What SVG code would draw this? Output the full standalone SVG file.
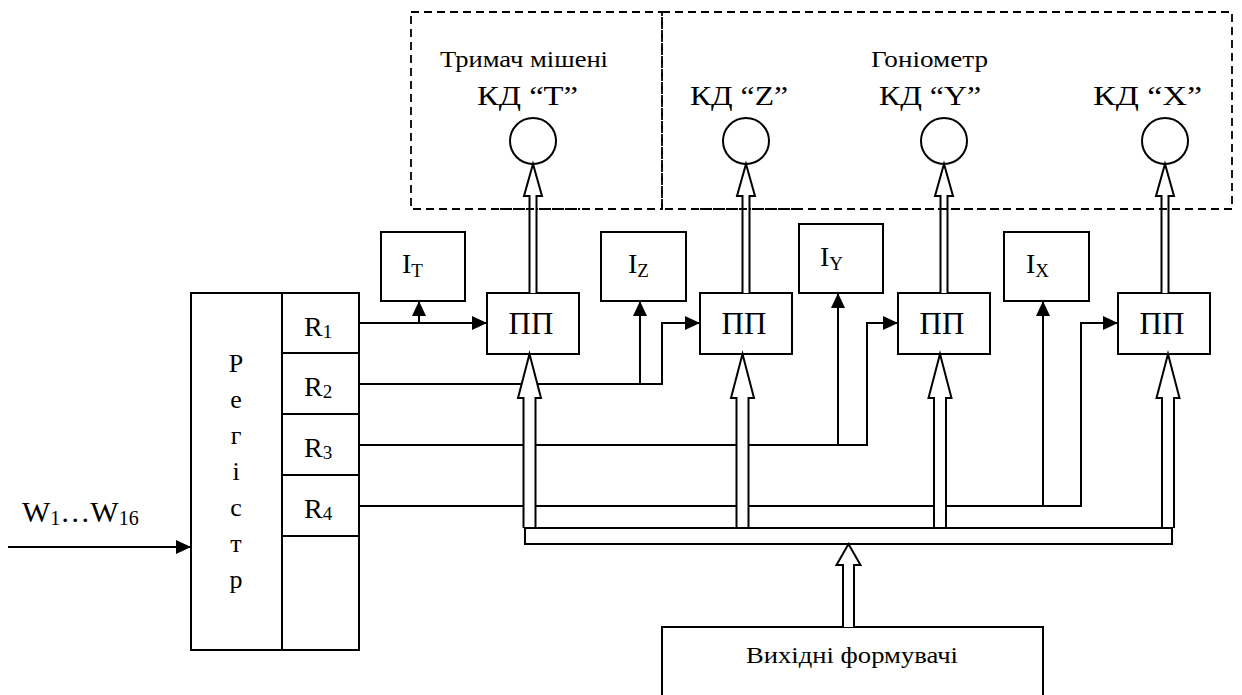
<svg xmlns="http://www.w3.org/2000/svg" width="1242" height="695" viewBox="0 0 1242 695" font-family="'Liberation Serif', 'Times New Roman', 'DejaVu Serif', serif">
<style>
text{font-family:'Liberation Serif','Times New Roman','DejaVu Serif',serif;fill:#000}
.box{fill:#fff;stroke:#000;stroke-width:2}
.ln{fill:none;stroke:#000;stroke-width:2}
.dash{fill:none;stroke:#000;stroke-width:1.8;stroke-dasharray:8 5}
.dbl{fill:#fff;stroke:#000;stroke-width:2;stroke-linejoin:miter}
.kd{font-size:28px}
.grp{font-size:24px}
.pp{font-size:31px;text-anchor:middle}
.big{font-size:28px}
.sub{font-size:19px}
.reg{font-size:26px;text-anchor:middle}
</style>
<defs>
<marker id="ah" markerUnits="userSpaceOnUse" markerWidth="15" markerHeight="14" refX="15" refY="7" orient="auto"><path d="M0,0 L15,7 L0,14 z" fill="#000"/></marker>
</defs>
<rect width="1242" height="695" fill="#fff"/>

<g id="holder">
<rect class="dash" x="411" y="12" width="251" height="197"/>
<text class="grp" x="440" y="67" textLength="168" lengthAdjust="spacingAndGlyphs">Тримач мішені</text>
</g>
<g id="goniometer">
<rect class="dash" x="662" y="12" width="570" height="197"/>
<text class="grp" x="871" y="67" textLength="117" lengthAdjust="spacingAndGlyphs">Гоніометр</text>
</g>

<g id="kd-t"><text class="kd" x="477" y="105" textLength="101" lengthAdjust="spacingAndGlyphs">КД “T”</text><circle class="box" cx="533" cy="141" r="23"/></g>
<g id="kd-z"><text class="kd" x="690" y="105" textLength="98" lengthAdjust="spacingAndGlyphs">КД “Z”</text><circle class="box" cx="746" cy="141" r="23"/></g>
<g id="kd-y"><text class="kd" x="879" y="105" textLength="102" lengthAdjust="spacingAndGlyphs">КД “Y”</text><circle class="box" cx="944" cy="141" r="23"/></g>
<g id="kd-x"><text class="kd" x="1093" y="105" textLength="109" lengthAdjust="spacingAndGlyphs">КД “X”</text><circle class="box" cx="1165" cy="141" r="23"/></g>

<g id="register">
<rect class="box" x="191" y="293" width="168" height="357"/>
<path class="ln" d="M282,293 V650 M282,353 H359 M282,414 H359 M282,475 H359 M282,536 H359"/>
<text class="reg" x="236" y="372">Р</text>
<text class="reg" x="236" y="408">е</text>
<text class="reg" x="236" y="444">г</text>
<text class="reg" x="236" y="480">і</text>
<text class="reg" x="236" y="516">с</text>
<text class="reg" x="236" y="552">т</text>
<text class="reg" x="236" y="588">р</text>
<text class="big" x="304" y="336">R<tspan class="sub" dy="2">1</tspan></text>
<text class="big" x="304" y="396">R<tspan class="sub" dy="2">2</tspan></text>
<text class="big" x="304" y="457">R<tspan class="sub" dy="2">3</tspan></text>
<text class="big" x="304" y="518">R<tspan class="sub" dy="2">4</tspan></text>
</g>

<g id="input-label"><text style="font-size:30px" x="22" y="522">W<tspan style="font-size:20px" dy="3">1</tspan><tspan dy="-3">…W</tspan><tspan style="font-size:20px" dy="3">16</tspan></text></g>

<g id="it"><rect class="box" x="381" y="232" width="84" height="69"/><text class="big" x="402" y="273">I<tspan class="sub" dy="4">T</tspan></text></g>
<g id="iz"><rect class="box" x="601" y="232" width="85" height="69"/><text class="big" x="628" y="273">I<tspan class="sub" dy="4">Z</tspan></text></g>
<g id="iy"><rect class="box" x="799" y="224" width="84" height="69"/><text class="big" x="820" y="266">I<tspan class="sub" dy="4">Y</tspan></text></g>
<g id="ix"><rect class="box" x="1004" y="232" width="85" height="69"/><text class="big" x="1026" y="273">I<tspan class="sub" dy="4">X</tspan></text></g>

<g id="pp1"><rect class="box" x="487" y="293" width="92" height="61"/><text class="pp" x="531" y="334">ПП</text></g>
<g id="pp2"><rect class="box" x="700" y="293" width="92" height="61"/><text class="pp" x="744" y="334">ПП</text></g>
<g id="pp3"><rect class="box" x="898" y="293" width="92" height="61"/><text class="pp" x="942" y="334">ПП</text></g>
<g id="pp4"><rect class="box" x="1118" y="293" width="92" height="61"/><text class="pp" x="1162" y="334">ПП</text></g>

<g id="formers"><rect class="box" x="662" y="627" width="381" height="90"/><text class="grp" x="746" y="663" textLength="212" lengthAdjust="spacingAndGlyphs">Вихідні формувачі</text></g>

<g id="connectors">
<path class="ln" d="M8,547 H191" marker-end="url(#ah)"/>
<path class="ln" d="M359,323 H487" marker-end="url(#ah)"/>
<path class="ln" d="M419,323 V301" marker-end="url(#ah)"/>
<path class="ln" d="M359,384 H662 V323 H700" marker-end="url(#ah)"/>
<path class="ln" d="M640,384 V301" marker-end="url(#ah)"/>
<path class="ln" d="M359,445 H867 V323 H898" marker-end="url(#ah)"/>
<path class="ln" d="M838,445 V293" marker-end="url(#ah)"/>
<path class="ln" d="M359,506 H1081 V323 H1118" marker-end="url(#ah)"/>
<path class="ln" d="M1043,506 V301" marker-end="url(#ah)"/>
<path class="dbl" d="M523.5,528 V398 H518 L529.5,354 L541,398 H535.5 V528"/>
<path class="dbl" d="M736.5,528 V398 H731 L742.5,354 L754,398 H748.5 V528"/>
<path class="dbl" d="M934,528 V398 H928.5 L940,354 L951.5,398 H946 V528"/>
<path class="dbl" d="M1162,528 V398 H1156.5 L1168,354 L1179.5,398 H1174 V528"/>
<rect class="box" x="525" y="528" width="647" height="16"/>
<path class="dbl" d="M843,627 V565 H836.5 L848.5,544 L860.5,565 H854 V627"/>
<path class="dbl" d="M529.5,293 V196 H524 L533,164 L542,196 H536.5 V293"/>
<path class="dbl" d="M742.5,293 V196 H737 L746,164 L755,196 H749.5 V293"/>
<path class="dbl" d="M940.5,293 V196 H935 L944,164 L953,196 H947.5 V293"/>
<path class="dbl" d="M1161.5,293 V196 H1156 L1165,164 L1174,196 H1168.5 V293"/>
<path class="dash" d="M500,209 H580 M700,209 H800 M900,209 H1000 M1120,209 H1210"/>
</g>
</svg>
